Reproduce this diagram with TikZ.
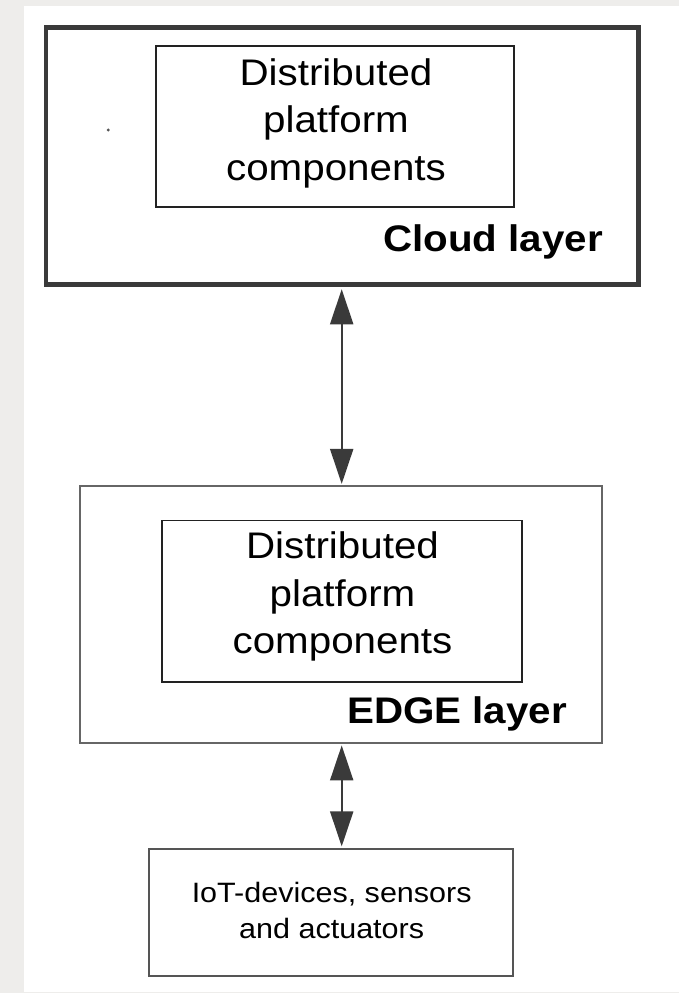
\documentclass[tikz,border=0pt]{standalone}
\usepackage{fontspec}
\setmainfont[FakeStretch=1.09]{Liberation Sans}
\usetikzlibrary{arrows.meta}

\definecolor{pagegray}{HTML}{EEEDEB}
\definecolor{framedark}{HTML}{3A3A3A}
\definecolor{framemid}{HTML}{666666}
\definecolor{boxline}{HTML}{222222}
\definecolor{iotline}{HTML}{555555}
\definecolor{arrowcol}{HTML}{3A3A3A}

\tikzset{
  layerbox/.style={draw, rectangle, inner sep=0pt, fill=none},
  cloudframe/.style={layerbox, draw=framedark, line width=4.5pt},
  edgeframe/.style={layerbox, draw=framemid, line width=2pt},
  compbox/.style={layerbox, draw=boxline, line width=1.6pt},
  iotbox/.style={layerbox, draw=iotline, line width=2.2pt},
  bodytext/.style={inner sep=0pt, align=center, text=black,
    font=\fontsize{37}{47.5}\selectfont},
  layertitle/.style={inner sep=0pt, anchor=base, text=black,
    font=\fontsize{37}{44}\selectfont\bfseries},
  smalltext/.style={inner sep=0pt, align=center, text=black,
    font=\fontsize{28}{36.7}\selectfont},
  biarrow/.style={draw=arrowcol, line width=2pt,
    {Triangle[length=35pt,width=23pt]}-{Triangle[length=35pt,width=23pt]}},
}

\begin{document}
\begin{tikzpicture}[x=1pt,y=-1pt]
  % page area
  \fill[pagegray] (0,0) rectangle (679,993);
  \fill[white] (24,6) rectangle (679,992);
  \useasboundingbox (0,0) rectangle (679,993);

  % cloud layer
  \node[cloudframe, minimum width=592.5pt, minimum height=257pt] (cloud) at (342.25,156) {};
  \node[compbox, minimum width=358.2pt, minimum height=160.7pt] (cloudcomp) at (335,126.4) {};
  \node[bodytext] (cloudcomptext) at (336,123) {Distributed\\platform\\components};
  \node[layertitle] (cloudtitle) at (493,251.7) {Cloud layer};
  \fill[iotline] (108.3,130) circle (1.6pt);

  % edge layer
  \node[edgeframe, minimum width=521.7pt, minimum height=257pt] (edge) at (340.85,614.4) {};
  \node[compbox, minimum width=359.7pt, minimum height=161.2pt] (edgecomp) at (341.85,601.1) {};
  \node[bodytext] (edgecomptext) at (342.5,596.6) {Distributed\\platform\\components};
  \node[layertitle] (edgetitle) at (457,723) {EDGE layer};

  % devices
  \node[iotbox, minimum width=364.3pt, minimum height=127pt] (iot) at (331.2,912.5) {};
  \node[smalltext] (iottext) at (331.7,910.5) {IoT-devices, sensors\\and actuators};

  % connectors
  \coordinate (axis) at (341.7,0);
  \draw[biarrow, shorten <=2.5pt, shorten >=1pt] (cloud.south -| axis) -- (edge.north -| axis);
  \draw[biarrow, shorten <=1.5pt, shorten >=1.5pt] (edge.south -| axis) -- (iot.north -| axis);
\end{tikzpicture}
\end{document}
